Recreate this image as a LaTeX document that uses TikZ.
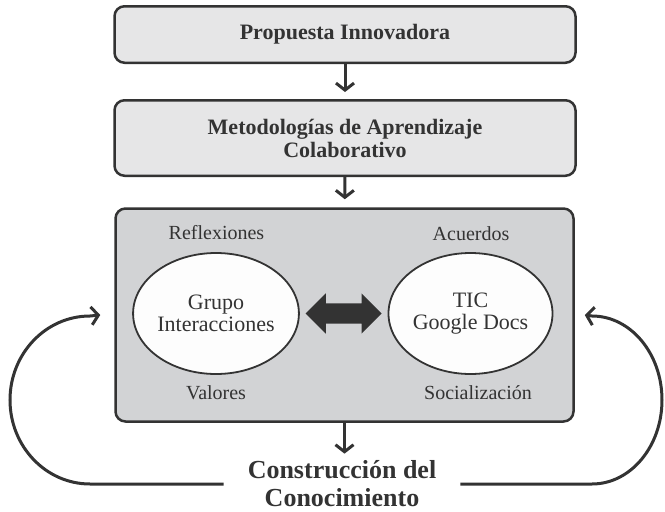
\documentclass[tikz,border=0pt]{standalone}
\usepackage{fontspec}
\setmainfont{Liberation Serif}
\usetikzlibrary{arrows.meta,shapes.geometric,shapes.arrows,calc}
\definecolor{ink}{RGB}{51,51,51}
\definecolor{boxgray}{RGB}{230,230,231}
\definecolor{panelgray}{RGB}{210,211,213}
\definecolor{bubblefill}{RGB}{253,253,253}

\tikzset{
  stage/.style={draw=ink, line width=2.5pt, fill=boxgray, rounded corners=10pt,
    minimum width=461pt, align=center, text=ink, inner sep=0pt,
    font=\fontsize{22}{23}\selectfont\bfseries},
  panel/.style={draw=ink, line width=2.5pt, fill=panelgray, rounded corners=10pt,
    minimum width=458pt, minimum height=213pt},
  bubble/.style={ellipse, draw=ink, line width=1.8pt, fill=bubblefill,
    minimum width=164pt, minimum height=121pt, inner sep=0pt, align=center,
    text=ink, font=\fontsize{22}{22}\selectfont},
  tag/.style={text=ink, anchor=base, font=\fontsize{20}{20}\selectfont},
  flow/.style={draw=ink, line width=3pt, -{Straight Barb[length=7pt,width=18pt]}},
  loopline/.style={draw=ink, line width=3pt, -{Straight Barb[length=7pt,width=18pt]}}
}

\begin{document}
\begin{tikzpicture}[x=1pt,y=-1pt]
\useasboundingbox (0,0) rectangle (665,512);

\path (345,34.5) node[stage, minimum height=56.5pt] (prop) {Propuesta Innovadora}
      (345,138) node[stage, minimum height=75.5pt] (metod) {Metodologías de Aprendizaje\\Colaborativo}
      (344.5,315) node[panel] (pnl) {}
      (216,313.5) node[bubble] (grupo) {Grupo\\Interacciones}
      (470.5,313.5) node[bubble] (tic) {TIC\\Google Docs}
      (216.5,239) node[tag] (refl) {Reflexiones}
      (471,240) node[tag] (acu) {Acuerdos}
      (216,399) node[tag] (val) {Valores}
      (478,399) node[tag] (soc) {Socialización}
      (342,484) node[align=center, text=ink, inner sep=0pt,
                     font=\fontsize{26}{28}\selectfont\bfseries] (cons) {Construcción del\\Conocimiento}
      ;

\node[double arrow, fill=ink, inner sep=10pt, minimum height=76pt,
      double arrow head extend=10pt] (dbl) at ($(grupo.east)!0.5!(tic.west)$) {};

\draw[flow, shorten >=7pt] (prop) -- (metod);
\draw[flow, shorten >=8pt] (metod) -- (pnl);
\draw[flow, shorten >=7pt] (pnl.south) -- (pnl.south |- cons.north);

\draw[loopline] ([xshift=-24pt]cons.west) -- (90,484)
      arc[start angle=270, end angle=90, x radius=80pt, y radius=84pt]
      -- ([xshift=-14pt]pnl.west);
\draw[loopline] ([xshift=24pt]cons.east) -- (592,484)
      arc[start angle=270, end angle=450, x radius=70pt, y radius=84pt]
      -- ([xshift=10pt]pnl.east);
\end{tikzpicture}
\end{document}
